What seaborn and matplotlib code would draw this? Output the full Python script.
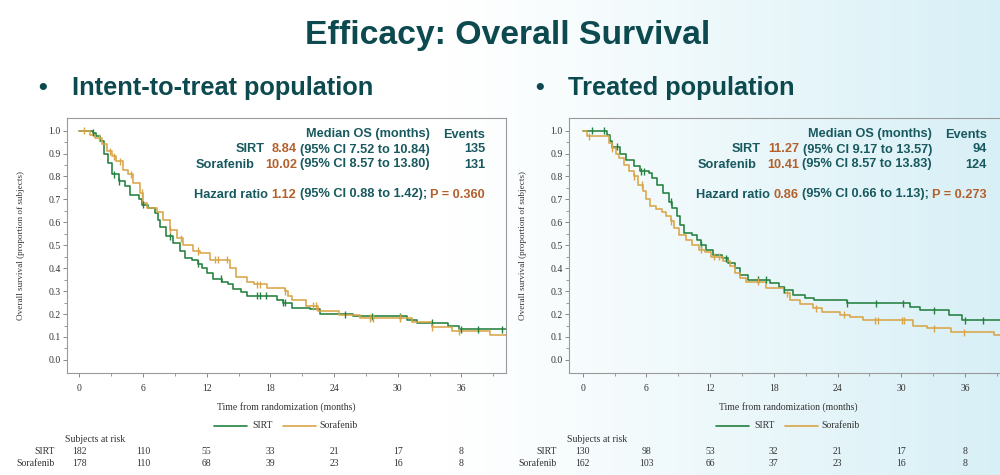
import numpy as np
import pandas as pd
import matplotlib
matplotlib.use("Agg")
import matplotlib.pyplot as plt
from matplotlib.transforms import blended_transform_factory
from matplotlib.lines import Line2D
import seaborn as sns

# ---------------------------------------------------------------- data
month_ticks = [0, 6, 12, 18, 24, 30, 36]
arms = ["SIRT", "Sorafenib"]

# Intent-to-treat population: Kaplan-Meier step points (time in months, survival after the step)
itt_sirt_t = [0, 1.3, 1.6, 1.95, 2.3, 2.7, 3.05, 3.7, 4.3, 4.8, 5.6, 5.9, 6.5, 7.1, 7.4, 7.6,
              8.2, 8.85, 9.5, 10.0, 10.6, 11.2, 11.6, 12.0, 12.6, 13.4, 14.0, 14.5, 15.2, 15.8,
              18.6, 19.2, 20.0, 21.7, 22.7, 25.8, 30.9, 31.8, 34.7, 35.8]
itt_sirt_s = [1.0, 0.99, 0.975, 0.953, 0.90, 0.86, 0.81, 0.78, 0.757, 0.72, 0.70, 0.677, 0.662,
              0.64, 0.61, 0.58, 0.54, 0.51, 0.473, 0.445, 0.435, 0.42, 0.40, 0.38, 0.355, 0.34,
              0.33, 0.31, 0.295, 0.28, 0.263, 0.25, 0.228, 0.22, 0.20, 0.19, 0.175, 0.163,
              0.15, 0.134]
itt_sirt_cens = [1.3, 3.3, 3.7, 6.0, 8.5, 11.2, 13.3, 16.7, 17.0, 17.6, 19.2, 19.4, 25.0, 27.6,
                 30.2, 33.2, 36.0, 37.6, 39.8]

itt_sora_t = [0, 1.0, 1.5, 2.1, 2.6, 3.05, 3.5, 4.15, 4.6, 5.1, 5.7, 6.0, 6.35, 7.3, 7.9, 8.5,
              9.2, 9.8, 10.7, 11.4, 12.3, 14.2, 14.8, 15.8, 16.5, 17.7, 19.4, 19.7, 20.0, 21.4,
              22.5, 24.5, 26.4, 31.3, 33.2, 35.1, 38.7]
itt_sora_s = [1.0, 0.983, 0.968, 0.94, 0.91, 0.888, 0.866, 0.83, 0.81, 0.77, 0.728, 0.684, 0.662,
              0.645, 0.61, 0.568, 0.53, 0.50, 0.475, 0.465, 0.437, 0.40, 0.36, 0.342, 0.33,
              0.313, 0.30, 0.28, 0.26, 0.235, 0.212, 0.197, 0.183, 0.165, 0.143, 0.124, 0.11]
itt_sora_cens = [0.4, 1.9, 2.9, 3.3, 3.8, 4.9, 5.9, 8.5, 9.6, 11.2, 12.8, 13.1, 13.9, 16.7, 17.0,
                 19.4, 22.0, 22.3, 27.4, 27.7, 30.2, 33.2, 35.8]

# Treated population
trt_sirt_t = [0, 2.3, 2.6, 2.75, 3.5, 4.1, 4.8, 5.4, 6.2, 6.5, 7.0, 7.6, 8.1, 8.4, 8.9, 9.2, 9.5,
              10.3, 10.8, 11.1, 11.6, 12.3, 13.1, 13.7, 14.3, 14.8, 15.6, 17.6, 18.5, 19.0, 19.8,
              20.9, 21.8, 24.9, 30.8, 31.8, 34.5, 35.7]
trt_sirt_s = [1.0, 0.98, 0.953, 0.93, 0.90, 0.873, 0.844, 0.822, 0.815, 0.793, 0.764, 0.728, 0.69,
              0.662, 0.626, 0.59, 0.553, 0.545, 0.524, 0.502, 0.48, 0.459, 0.444, 0.422, 0.40,
              0.371, 0.349, 0.335, 0.32, 0.306, 0.284, 0.27, 0.26, 0.247, 0.232, 0.216, 0.196,
              0.172]
trt_sirt_cens = [0.9, 2.0, 3.2, 5.5, 5.8, 8.3, 11.1, 13.5, 16.5, 17.3, 19.0, 24.9, 27.6, 30.2,
                 33.1, 36.0, 37.7]

trt_sora_t = [0, 0.4, 2.5, 2.8, 3.1, 3.4, 3.9, 4.4, 4.8, 5.2, 5.7, 6.0, 6.3, 6.9, 7.5, 7.8, 8.3,
              8.6, 9.1, 9.7, 10.3, 11.0, 11.5, 12.1, 13.2, 13.9, 14.3, 14.8, 15.4, 17.3, 19.0,
              19.5, 20.5, 21.7, 22.5, 24.2, 25.2, 26.4, 31.1, 32.4, 34.7, 38.7]
trt_sora_s = [1.0, 0.975, 0.946, 0.924, 0.90, 0.88, 0.85, 0.822, 0.80, 0.764, 0.735, 0.70, 0.67,
              0.658, 0.645, 0.626, 0.604, 0.575, 0.546, 0.524, 0.502, 0.48, 0.47, 0.451, 0.43,
              0.41, 0.38, 0.357, 0.342, 0.315, 0.29, 0.262, 0.245, 0.226, 0.211, 0.197, 0.186,
              0.172, 0.15, 0.138, 0.12, 0.108]
trt_sora_cens = [0.6, 2.8, 4.8, 5.6, 8.3, 11.1, 12.4, 12.8, 16.5, 19.2, 22.0, 24.6, 27.5, 27.8,
                 30.1, 30.3, 33.1, 35.9]

followup_end = 41.0

# Numbers at risk at 0, 6, ..., 36 months
itt_risk_sirt = [182, 110, 55, 33, 21, 17, 8]
itt_risk_sora = [178, 110, 68, 39, 23, 16, 8]
trt_risk_sirt = [130, 98, 53, 32, 21, 17, 8]
trt_risk_sora = [162, 103, 66, 37, 23, 16, 8]

# Summary statistics
itt_median = ["8.84", "10.02"]
itt_ci = ["(95% CI 7.52 to 10.84)", "(95% CI 8.57 to 13.80)"]
itt_events = ["135", "131"]
itt_hr, itt_hr_ci, itt_p = "1.12", "(95% CI 0.88 to 1.42);", "P = 0.360"
trt_median = ["11.27", "10.41"]
trt_ci = ["(95% CI 9.17 to 13.57)", "(95% CI 8.57 to 13.83)"]
trt_events = ["94", "124"]
trt_hr, trt_hr_ci, trt_p = "0.86", "(95% CI 0.66 to 1.13);", "P = 0.273"

# ---------------------------------------------------------------- style
sns.set_theme(style="white")
plt.rcParams["font.family"] = ["Liberation Sans", "DejaVu Sans"]
SERIF = ["Liberation Serif", "DejaVu Serif"]

C_SIRT = "#23803f"
C_SORA = "#d9a548"
TEAL = "#17595e"
BROWN = "#b4602c"
TITLE_C = "#0d4a4f"
palette = {"SIRT": C_SIRT, "Sorafenib": C_SORA}

W, H = 1000, 475
fig = plt.figure(figsize=(10, 4.75), dpi=100)


def fx(px):
    return px / W


def fy(py):
    return 1 - py / H


# soft slide background: white on the left fading to pale cyan on the right
bg = fig.add_axes([0, 0, 1, 1], zorder=-10)
gx = np.linspace(0, 1, 500)
gy = np.linspace(0, 1, 240)
GX, GY = np.meshgrid(gx, gy)
wgt = np.clip((GX - 0.45) / 0.55, 0, 1) ** 1.1
cyan = np.array([0.845, 0.94, 0.965])
img = (1 - wgt[..., None]) * np.ones(3) + wgt[..., None] * cyan
bg.imshow(img, extent=[0, 1, 0, 1], aspect="auto", origin="lower")
bg.set_axis_off()

# titles
fig.text(fx(508), fy(44), "Efficacy: Overall Survival", ha="center", va="baseline",
         fontsize=24.3, fontweight="bold", color=TITLE_C)
for bx, tx, label in [(38, 72, "Intent-to-treat population"), (535, 568, "Treated population")]:
    fig.text(fx(bx), fy(95), "\u2022", ha="left", va="baseline", fontsize=18,
             fontweight="bold", color=TITLE_C)
    fig.text(fx(tx), fy(95), label, ha="left", va="baseline", fontsize=18.3,
             fontweight="bold", color=TITLE_C)

renderer = fig.canvas.get_renderer()
ANN_SIZE = 9.2
SPACE = 0.278 * ANN_SIZE * 100 / 72


def rich_right(x_px, base_px, pieces):
    """Draw colored pieces of one line, right-aligned at x_px; each piece is
    (text, color, number of spaces before it)."""
    x = x_px
    for s, c, gap in reversed(pieces):
        t = fig.text(fx(x), fy(base_px), s, ha="right", va="baseline", color=c,
                     fontsize=ANN_SIZE, fontweight="bold")
        x -= t.get_window_extent(renderer).width + gap * SPACE


def km_frame(times, surv, arm):
    t = list(times) + [followup_end]
    s = list(surv) + [surv[-1]]
    return pd.DataFrame({"time": t, "survival": s, "arm": arm})


def censor_frame(times, surv, cens, arm):
    tt = np.asarray(times)
    ss = np.asarray(surv)
    idx = np.searchsorted(tt, cens, side="right") - 1
    return pd.DataFrame({"time": cens, "survival": ss[idx], "arm": arm})


def draw_panel(left_px, zero_px, curves, risk, med, ci, events, hr, hr_ci, pval):
    top_px, bot_px, width_px = 118, 373, 439
    ax = fig.add_axes([fx(left_px), fy(bot_px), width_px / W, (bot_px - top_px) / H])
    ax.set_facecolor("none")
    px_per_month = 63.7 / 6
    xmin = -(zero_px - left_px) / px_per_month
    ax.set_xlim(xmin, xmin + width_px / px_per_month)
    ax.set_ylim(-0.057, 1.055)

    km = pd.concat([km_frame(t, s, a) for (t, s, c, a) in curves], ignore_index=True)
    cz = pd.concat([censor_frame(t, s, c, a) for (t, s, c, a) in curves], ignore_index=True)
    sns.lineplot(data=km, x="time", y="survival", hue="arm", palette=palette,
                 estimator=None, sort=False, drawstyle="steps-post", linewidth=1.15,
                 legend=False, ax=ax)
    sns.scatterplot(data=cz, x="time", y="survival", hue="arm", palette=palette,
                    marker="|", s=26, linewidth=1.0, legend=False, ax=ax, zorder=3)

    ax.set_xticks(month_ticks)
    ax.set_xticks(np.arange(3, 40, 6), minor=True)
    ax.set_yticks(np.round(np.arange(0, 1.01, 0.1), 1))
    ax.set_yticks(np.arange(0.05, 1.0, 0.1), minor=True)
    ax.set_yticklabels([f"{v:.1f}" for v in np.arange(0, 1.01, 0.1)])
    ax.tick_params(which="major", direction="out", length=3, width=0.7, color="#888888",
                   labelsize=7, labelcolor="#333333", bottom=True, left=True)
    ax.tick_params(axis="x", which="major", pad=5)
    ax.tick_params(axis="y", which="major", pad=1.5)
    ax.tick_params(which="minor", direction="out", length=2, width=0.6, color="#888888",
                   bottom=True, left=True)
    for lab in ax.get_xticklabels() + ax.get_yticklabels():
        lab.set_family(SERIF)
    for sp in ax.spines.values():
        sp.set_color("#9a9a9a")
        sp.set_linewidth(0.8)
    ax.set_xlabel("")
    ax.set_ylabel("Overall survival (proportion of subjects)", family=SERIF, fontsize=6.6,
                  color="#333333")
    ax.yaxis.set_label_coords(-42 / width_px, 0.5)
    ax.text(0.5, (bot_px - 407) / (bot_px - top_px), "Time from randomization (months)",
            transform=ax.transAxes, ha="center", va="center", family=SERIF, fontsize=7,
            color="#333333")

    # legend drawn under the axis title
    cx = left_px + width_px / 2
    ly = fy(426)
    fig.add_artist(Line2D([fx(cx - 73), fx(cx - 40)], [ly, ly], color=C_SIRT, lw=1.2))
    fig.text(fx(cx - 34), ly, "SIRT", ha="left", va="center", family=SERIF, fontsize=7,
             color="#333333")
    fig.add_artist(Line2D([fx(cx - 4), fx(cx + 29)], [ly, ly], color=C_SORA, lw=1.2))
    fig.text(fx(cx + 33), ly, "Sorafenib", ha="left", va="center", family=SERIF, fontsize=7,
             color="#333333")

    # numbers at risk
    tr = blended_transform_factory(ax.transData, fig.transFigure)
    fig.text(fx(left_px - 2), fy(442), "Subjects at risk", ha="left", va="baseline",
             family=SERIF, fontsize=7, color="#333333")
    for row_y, name, vals in [(454, "SIRT", risk[0]), (466.5, "Sorafenib", risk[1])]:
        fig.text(fx(left_px - 12), fy(row_y), name, ha="right", va="baseline", family=SERIF,
                 fontsize=7, color="#333333")
        for m, v in zip(month_ticks, vals):
            ax.text(m, fy(row_y), str(v), transform=tr, ha="center", va="baseline",
                    family=SERIF, fontsize=7, color="#333333")

    # summary block
    col1 = left_px + 363
    col2 = left_px + 418
    rich_right(col1, 137.5, [("Median OS (months)", TEAL, 0)])
    rich_right(col2, 137.5, [("Events", TEAL, 0)])
    rich_right(col1, 152.5, [("SIRT", TEAL, 0), (med[0], BROWN, 2), (ci[0], TEAL, 1)])
    rich_right(col2, 152.5, [(events[0], TEAL, 0)])
    rich_right(col1, 167.5, [("Sorafenib", TEAL, 0), (med[1], BROWN, 3), (ci[1], TEAL, 1)])
    rich_right(col2, 167.5, [(events[1], TEAL, 0)])
    rich_right(col2, 197.5, [("Hazard ratio", TEAL, 0), (hr, BROWN, 1), (hr_ci, TEAL, 1),
                             (pval, BROWN, 1)])
    return ax


draw_panel(67, 79.3,
           [(itt_sirt_t, itt_sirt_s, itt_sirt_cens, "SIRT"),
            (itt_sora_t, itt_sora_s, itt_sora_cens, "Sorafenib")],
           (itt_risk_sirt, itt_risk_sora), itt_median, itt_ci, itt_events,
           itt_hr, itt_hr_ci, itt_p)
draw_panel(569, 582.7,
           [(trt_sirt_t, trt_sirt_s, trt_sirt_cens, "SIRT"),
            (trt_sora_t, trt_sora_s, trt_sora_cens, "Sorafenib")],
           (trt_risk_sirt, trt_risk_sora), trt_median, trt_ci, trt_events,
           trt_hr, trt_hr_ci, trt_p)

fig.savefig("out.png", dpi=100)
